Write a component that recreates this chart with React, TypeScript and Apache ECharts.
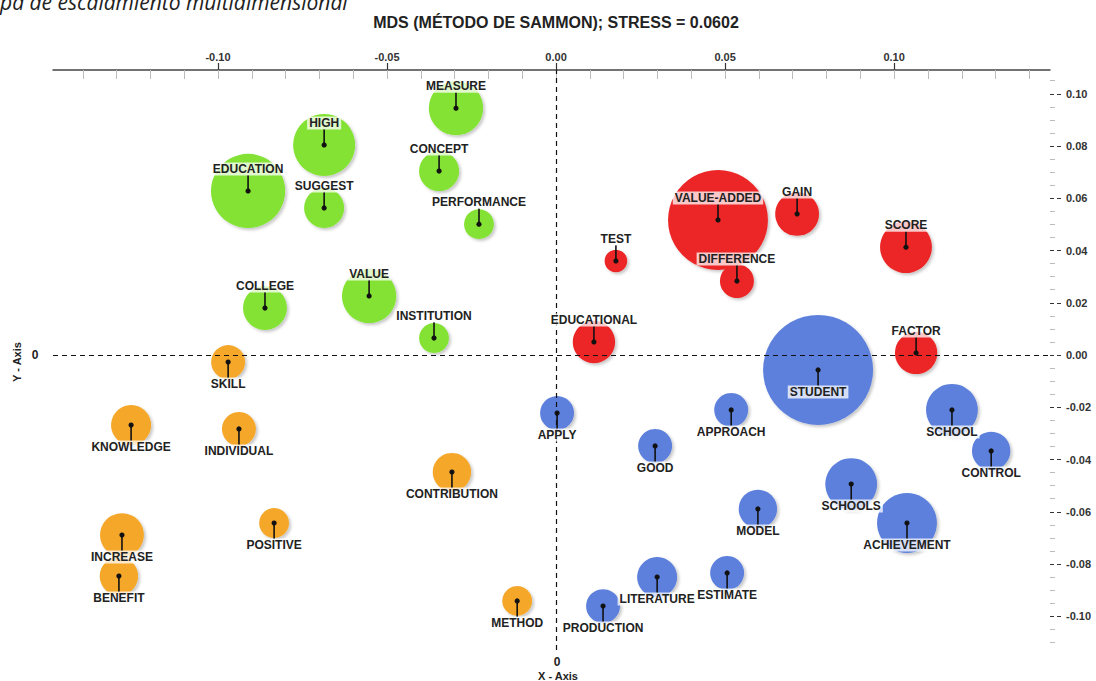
import React, { useEffect, useRef } from "react";
import * as echarts from "echarts";

// ---- Data ----
const greenTerms = ["MEASURE", "HIGH", "EDUCATION", "SUGGEST", "CONCEPT", "PERFORMANCE", "COLLEGE", "VALUE", "INSTITUTION"];
const greenX = [-0.0296, -0.0686, -0.0911, -0.0686, -0.0346, -0.0228, -0.0861, -0.0553, -0.0361];
const greenY = [0.0945, 0.0804, 0.0628, 0.0563, 0.0704, 0.0501, 0.018, 0.0226, 0.0065];
const greenWeight = [46, 60, 86, 25, 25, 14, 30, 46, 14];

const redTerms = ["VALUE-ADDED", "GAIN", "TEST", "DIFFERENCE", "SCORE", "EDUCATIONAL", "FACTOR"];
const redX = [0.0479, 0.0713, 0.0177, 0.0535, 0.1035, 0.0112, 0.1065];
const redY = [0.0517, 0.054, 0.036, 0.0283, 0.0413, 0.005, 0.0008];
const redWeight = [156, 30, 8, 18, 42, 28, 28];

const blueTerms = ["STUDENT", "APPLY", "APPROACH", "GOOD", "SCHOOL", "CONTROL", "SCHOOLS", "ACHIEVEMENT", "MODEL", "LITERATURE", "ESTIMATE", "PRODUCTION"];
const blueX = [0.0775, 0.0003, 0.0518, 0.0293, 0.1171, 0.1287, 0.0873, 0.1038, 0.0597, 0.0299, 0.0506, 0.0139];
const blueY = [-0.0057, -0.0222, -0.021, -0.0348, -0.021, -0.0367, -0.0494, -0.0643, -0.0589, -0.085, -0.0834, -0.0961];
const blueWeight = [189, 18, 18, 18, 42, 23, 42, 56, 23, 25, 18, 18];

const orangeTerms = ["SKILL", "KNOWLEDGE", "INDIVIDUAL", "CONTRIBUTION", "POSITIVE", "INCREASE", "BENEFIT", "METHOD"];
const orangeX = [-0.097, -0.1257, -0.0938, -0.0308, -0.0834, -0.1284, -0.1293, -0.0115];
const orangeY = [-0.0027, -0.0268, -0.0283, -0.0448, -0.0643, -0.0689, -0.0846, -0.0941];
const orangeWeight = [18, 25, 18, 23, 14, 30, 23, 14];

// ---- Ticks ----
const xMajorTicks = [-0.1, -0.05, 0, 0.05, 0.1];
const xMinorTicks = [-0.14, -0.13, -0.12, -0.11, -0.1, -0.09, -0.08, -0.07, -0.06, -0.05, -0.04, -0.03, -0.02, -0.01, 0, 0.01, 0.02, 0.03, 0.04, 0.05, 0.06, 0.07, 0.08, 0.09, 0.1, 0.11, 0.12, 0.13, 0.14];
const yMajorTicks = [-0.1, -0.08, -0.06, -0.04, -0.02, 0, 0.02, 0.04, 0.06, 0.08, 0.1];
const yMinorTicks = [-0.11, -0.105, -0.095, -0.09, -0.085, -0.075, -0.07, -0.065, -0.055, -0.05, -0.045, -0.035, -0.03, -0.025, -0.015, -0.01, -0.005, 0.005, 0.01, 0.015, 0.025, 0.03, 0.035, 0.045, 0.05, 0.055, 0.065, 0.07, 0.075, 0.085, 0.09, 0.095, 0.105];

const X_MIN = -0.1488;
const X_MAX = 0.1461;
const Y_MIN = -0.1129;
const Y_MAX = 0.1091;

const TITLE = "MDS (MÉTODO DE SAMMON); STRESS = 0.0602";
const CAPTION = "pa de escalamiento multidimensional";

const FONT = '"Liberation Sans", Arial, sans-serif';
const R_PER_SQRT = 4;

type Cluster = { terms: string[]; x: number[]; y: number[]; w: number[]; color: string; above: boolean };

const clusters: Cluster[] = [
  { terms: greenTerms, x: greenX, y: greenY, w: greenWeight, color: "#84e234", above: true },
  { terms: redTerms, x: redX, y: redY, w: redWeight, color: "#ec2727", above: true },
  { terms: blueTerms, x: blueX, y: blueY, w: blueWeight, color: "#5c80dc", above: false },
  { terms: orangeTerms, x: orangeX, y: orangeY, w: orangeWeight, color: "#f5a72a", above: false },
];

const fmt = (v: number) => (Math.abs(v) < 1e-9 ? 0 : v).toFixed(2);

function bubbleSeries(c: Cluster) {
  return {
    type: "custom",
    coordinateSystem: "cartesian2d",
    xAxisIndex: 0,
    yAxisIndex: 0,
    clip: false,
    z: 2,
    data: c.x.map((x, i) => [x, c.y[i], c.w[i]]),
    renderItem: (_params: any, api: any) => {
      const p = api.coord([api.value(0), api.value(1)]);
      const r = R_PER_SQRT * Math.sqrt(api.value(2));
      return {
        type: "circle",
        shape: { cx: p[0], cy: p[1], r },
        style: {
          fill: c.color,
          shadowBlur: 3,
          shadowOffsetX: 2,
          shadowOffsetY: 2,
          shadowColor: "rgba(0,0,0,0.22)",
        },
      };
    },
  };
}

function labelSeries(c: Cluster) {
  return {
    type: "custom",
    coordinateSystem: "cartesian2d",
    xAxisIndex: 0,
    yAxisIndex: 0,
    clip: false,
    z: 5,
    data: c.x.map((x, i) => [x, c.y[i]]),
    renderItem: (params: any, api: any) => {
      const p = api.coord([api.value(0), api.value(1)]);
      const dir = c.above ? -1 : 1;
      return {
        type: "group",
        children: [
          {
            type: "line",
            shape: { x1: p[0], y1: p[1], x2: p[0], y2: p[1] + dir * 16 },
            style: { stroke: "#111", lineWidth: 1.6 },
          },
          { type: "circle", shape: { cx: p[0], cy: p[1], r: 2.6 }, style: { fill: "#111" } },
          {
            type: "text",
            x: p[0],
            y: p[1] + dir * 22,
            style: {
              text: c.terms[params.dataIndex],
              font: `bold 12px ${FONT}`,
              fill: "#222",
              align: "center",
              verticalAlign: "middle",
              backgroundColor: "rgba(255,255,255,0.75)",
              padding: [1, 2, 0, 2],
            },
          },
        ],
      };
    },
  };
}

export default function App() {
  const ref = useRef<HTMLDivElement>(null);

  useEffect(() => {
    if (!ref.current) return;
    const chart = echarts.init(ref.current, undefined, { renderer: "svg" });
    const option: any = {
      animation: false,
      backgroundColor: "#ffffff",
      grid: { left: 53, right: 46, top: 70, bottom: 31, containLabel: false },
      xAxis: [
        {
          type: "value",
          position: "top",
          min: X_MIN,
          max: X_MAX,
          axisLine: { show: true, onZero: false, lineStyle: { color: "#444", width: 1.5 } },
          axisTick: { show: true, customValues: xMajorTicks, length: 7, lineStyle: { color: "#333", width: 1.2 } },
          axisLabel: {
            customValues: xMajorTicks,
            formatter: fmt,
            fontWeight: "bold",
            fontSize: 11,
            fontFamily: FONT,
            color: "#333",
            margin: 8,
          },
          splitLine: { show: false },
        },
        {
          type: "value",
          position: "top",
          min: X_MIN,
          max: X_MAX,
          axisLine: { show: false, onZero: false },
          axisTick: { show: true, inside: true, customValues: xMinorTicks, length: 9, lineStyle: { color: "#bbb", width: 1 } },
          axisLabel: { show: false },
          splitLine: { show: false },
        },
      ],
      yAxis: [
        {
          type: "value",
          position: "right",
          min: Y_MIN,
          max: Y_MAX,
          axisLine: { show: false, onZero: false },
          axisTick: { show: true, customValues: yMajorTicks, length: 12, lineStyle: { color: "#333", width: 1.2, type: [4, 3] } },
          axisLabel: {
            customValues: yMajorTicks,
            formatter: fmt,
            fontWeight: "bold",
            fontSize: 11,
            fontFamily: FONT,
            color: "#333",
            margin: 16,
          },
          splitLine: { show: false },
        },
        {
          type: "value",
          position: "right",
          min: Y_MIN,
          max: Y_MAX,
          axisLine: { show: false, onZero: false },
          axisTick: { show: true, customValues: yMinorTicks, length: 5, lineStyle: { color: "#bbb", width: 1 } },
          axisLabel: { show: false },
          splitLine: { show: false },
        },
      ],
      series: [
        ...clusters.map(bubbleSeries),
        {
          type: "scatter",
          xAxisIndex: 0,
          yAxisIndex: 0,
          data: [],
          z: 3,
          silent: true,
          markLine: {
            silent: true,
            symbol: ["none", "none"],
            label: { show: false },
            lineStyle: { type: [5, 4], color: "#111", width: 1.2 },
            data: [{ xAxis: 0 }, { yAxis: 0 }],
          },
        },
        ...clusters.map(labelSeries),
      ],
      graphic: [
        {
          type: "text",
          x: 0,
          y: 12,
          style: { text: CAPTION, font: 'italic 21px "Open Sans", sans-serif', fill: "#222", verticalAlign: "bottom" },
        },
        {
          type: "text",
          x: 556,
          y: 22,
          style: { text: TITLE, font: `bold 16px ${FONT}`, fill: "#222", align: "center", verticalAlign: "middle" },
        },
        {
          type: "text",
          x: 35,
          y: 355,
          style: { text: "0", font: `bold 12px ${FONT}`, fill: "#222", align: "center", verticalAlign: "middle" },
        },
        {
          type: "text",
          x: 17,
          y: 362,
          rotation: Math.PI / 2,
          style: { text: "Y - Axis", font: `bold 11px ${FONT}`, fill: "#222", align: "center", verticalAlign: "middle" },
        },
        {
          type: "text",
          x: 557,
          y: 662,
          style: { text: "0", font: `bold 12px ${FONT}`, fill: "#222", align: "center", verticalAlign: "middle" },
        },
        {
          type: "text",
          x: 558,
          y: 676,
          style: { text: "X - Axis", font: `bold 11px ${FONT}`, fill: "#222", align: "center", verticalAlign: "middle" },
        },
      ],
    };
    chart.setOption(option);
    return () => chart.dispose();
  }, []);

  return (
    <div
      ref={ref}
      style={{ position: "fixed", left: 0, top: 0, width: 1096, height: 681, background: "#fff" }}
    />
  );
}
